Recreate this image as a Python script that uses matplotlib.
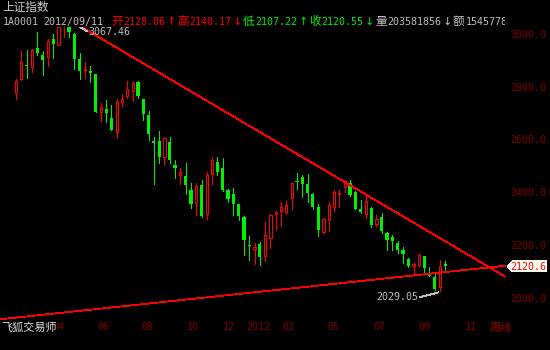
import matplotlib
matplotlib.use("Agg")
import matplotlib.pyplot as plt
from matplotlib.patches import Rectangle, Polygon
from matplotlib import transforms

# ---------------- data (weekly candles, 上证指数) ----------------
opens = [2776.5, 2829.5, 2884.8, 2877.2, 2948.1, 2921.6, 2912.9, 2982.2, 2960.6, 3030.0,
         3035.0, 3001.1, 2905.7, 2865.9, 2862.1, 2849.6, 2704.5, 2716.3, 2683.0, 2631.1,
         2744.7, 2767.4, 2786.4, 2820.4, 2754.9, 2694.3, 2597.0, 2595.8, 2534.1, 2592.0,
         2504.9, 2465.9, 2463.2, 2410.2, 2359.8, 2428.0, 2318.1, 2470.8, 2516.3, 2492.4,
         2410.2, 2395.0, 2357.2, 2307.9, 2201.9, 2186.7, 2205.7, 2161.3, 2227.3, 2319.3,
         2330.6, 2328.0, 2381.0, 2445.4, 2460.6, 2432.9, 2395.0, 2347.0, 2252.2, 2297.7,
         2344.7, 2396.2, 2420.4, 2437.9, 2403.8, 2338.2, 2319.3, 2343.2, 2280.3, 2307.9,
         2248.4, 2233.3, 2208.3, 2182.9, 2148.8, 2122.4, 2126.1, 2160.0, 2094.6, 2079.8,
         2041.6, 2128.06]
highs = [2829.5, 2936.7, 2940.5, 2944.3, 3007.5, 2936.7, 2982.2, 3000.0, 3035.2, 3067.46,
         3045.0, 3004.9, 2928.4, 2895.1, 2879.9, 2851.0, 2738.6, 2751.1, 2732.2, 2754.2,
         2772.0, 2823.1, 2821.2, 2823.1, 2756.0, 2709.5, 2611.0, 2633.7, 2609.8, 2609.8,
         2523.8, 2492.4, 2511.3, 2435.6, 2435.6, 2448.1, 2479.5, 2534.1, 2534.1, 2530.3,
         2415.1, 2417.8, 2358.5, 2311.7, 2235.9, 2210.6, 2214.4, 2289.0, 2318.1, 2330.6,
         2365.9, 2368.5, 2437.9, 2475.7, 2467.0, 2470.8, 2397.7, 2357.2, 2305.3, 2364.7,
         2411.3, 2411.3, 2448.1, 2448.1, 2406.4, 2372.3, 2385.6, 2343.9, 2315.5, 2321.9,
         2249.5, 2239.7, 2217.0, 2193.1, 2151.5, 2132.5, 2172.7, 2161.5, 2119.7, 2091.1,
         2145.0, 2140.17]
lows = [2754.9, 2826.9, 2836.3, 2858.3, 2921.6, 2845.8, 2881.0, 2912.1, 2957.6, 2990.9,
        2990.9, 2870.4, 2830.7, 2834.5, 2820.4, 2705.7, 2671.6, 2668.5, 2635.6, 2608.3,
        2725.7, 2758.7, 2748.5, 2759.8, 2673.5, 2599.6, 2432.9, 2511.3, 2504.9, 2513.6,
        2456.8, 2434.1, 2396.2, 2343.2, 2315.5, 2309.1, 2301.5, 2431.8, 2467.0, 2407.5,
        2365.9, 2315.5, 2296.6, 2164.0, 2145.0, 2129.9, 2126.1, 2141.2, 2191.6, 2258.7,
        2273.8, 2319.3, 2338.2, 2414.0, 2384.8, 2363.6, 2338.2, 2236.0, 2248.4, 2254.9,
        2330.6, 2347.0, 2403.8, 2388.6, 2336.3, 2321.9, 2304.1, 2271.2, 2273.8, 2246.2,
        2182.9, 2182.9, 2170.4, 2132.5, 2117.4, 2097.0, 2119.7, 2100.7, 2082.5, 2031.5,
        2029.05, 2107.22]
closes = [2821.9, 2893.9, 2878.8, 2940.5, 2929.1, 2903.8, 2974.6, 2963.3, 3025.8, 3042.0,
          3009.8, 2906.4, 2862.1, 2868.6, 2854.5, 2706.8, 2723.5, 2701.9, 2637.5, 2744.7,
          2754.2, 2792.8, 2816.7, 2767.4, 2699.2, 2622.4, 2589.0, 2533.4, 2606.0, 2523.8,
          2494.7, 2479.5, 2430.3, 2356.0, 2425.4, 2312.8, 2467.0, 2523.8, 2479.5, 2410.2,
          2377.2, 2357.2, 2311.7, 2220.8, 2198.1, 2195.4, 2157.6, 2239.7, 2315.5, 2328.0,
          2345.9, 2353.4, 2435.6, 2441.6, 2432.9, 2400.0, 2347.0, 2258.7, 2300.3, 2353.4,
          2401.5, 2400.0, 2445.4, 2391.3, 2337.1, 2325.7, 2368.5, 2277.6, 2299.2, 2254.9,
          2220.8, 2218.1, 2182.9, 2166.6, 2122.4, 2128.7, 2164.0, 2115.9, 2084.4, 2034.4,
          2122.4, 2120.55]

price_ticks = [3000, 2800, 2600, 2400, 2200, 2000]
month_labels = ["04", "06", "08", "10", "12", "2012", "03", "05", "07", "09", "11"]
month_pos = [6.8, 15.3, 23.7, 32.3, 39.1, 43.5, 50.2, 58.8, 67.4, 75.9, 84.6]

trend_down_x = [9, 92.3]
trend_down_y = [3067.46, 2082.0]
trend_up_x = [-3.02, 92.4]
trend_up_y = [1920.4, 2123.5]

hi_label = "3067.46"
lo_label = "2029.05"
last_label = "2120.6"

title1 = "上证指数"
code_txt = "1A0001"
date_txt = "2012/09/11"
quote_items = [("开", "2128.06", "↑", "red"), ("高", "2140.17", "↓", "red"),
               ("低", "2107.22", "↑", "green"), ("收", "2120.55", "↓", "green"),
               ("量", "203581856", "↓", "gray"), ("额", "15457780", "", "gray")]

# ---------------- styles ----------------
W, H = 550, 350
RED = "#FF0000"
GREEN = "#00F000"
GRAY = "#C0C0C0"
DRED = "#800000"
MONO = "DejaVu Sans Mono"
CJK = ["Noto Sans CJK SC", "DejaVu Sans"]
NUM_SIZE = 7.2
CJK_SIZE = 8.4
colmap = {"red": RED, "green": GREEN, "gray": GRAY}

fig = plt.figure(figsize=(W / 100, H / 100), dpi=100, facecolor="black")

AX_TOP, AX_BOT, AX_RIGHT = 27, 321, 506
ax = fig.add_axes([0, 1 - AX_BOT / H, AX_RIGHT / W, (AX_BOT - AX_TOP) / H])
ax.set_facecolor("black")
ax.set_xlim(-3.02, 92.45)
ax.set_ylim(1913.9, 3027.65)
ax.axis("off")

px_per_idx = AX_RIGHT / (92.45 + 3.02)
bw_red = 2.2 / px_per_idx
bw_green = 3.2 / px_per_idx
LW = 0.72

for i, (o, h, l, c) in enumerate(zip(opens, highs, lows, closes)):
    up = c > o
    col = RED if up else GREEN
    ax.vlines(i, l, h, colors=col, linewidth=LW, antialiased=False, zorder=2)
    if up:
        ax.add_patch(Rectangle((i - bw_red / 2, o), bw_red, c - o,
                               facecolor="black", edgecolor=col,
                               linewidth=LW, antialiased=False, zorder=3))
    else:
        ax.add_patch(Rectangle((i - bw_green / 2, c), bw_green, max(o - c, 1.5),
                               facecolor=col, edgecolor="none",
                               antialiased=False, zorder=3))

ax.plot(trend_down_x, trend_down_y, color=RED, linewidth=0.6, antialiased=False, zorder=4)
ax.plot(trend_up_x, trend_up_y, color=RED, linewidth=0.6, antialiased=False, zorder=4)

# high / low annotations
hi_i = highs.index(max(highs))
lo_i = lows.index(min(lows))
ax.plot([hi_i, 13.4], [max(highs), 3011], color=GRAY, linewidth=0.6, antialiased=False, zorder=5)
ax.text(13.6, 3008, hi_label, family=MONO, fontsize=NUM_SIZE, color=GRAY,
        ha="left", va="center", zorder=6)
ax.plot([76.2, lo_i - 0.3], [2004, 2022], color=GRAY, linewidth=0.6, antialiased=False, zorder=5)
ax.text(75.9, 2006, lo_label, family=MONO, fontsize=NUM_SIZE, color=GRAY,
        ha="right", va="center", zorder=6)

# overlay in pixel coordinates
ov = fig.add_axes([0, 0, 1, 1], zorder=10)
ov.set_xlim(0, W)
ov.set_ylim(H, 0)
ov.axis("off")
ov.patch.set_alpha(0)


def py_of(price):
    return H - ax.transData.transform((0, price))[1]


def num(x, yc, s, color, ha="left", **kw):
    return ov.text(x, yc + 3.6, s, family=MONO, fontsize=NUM_SIZE, color=color,
                   ha=ha, va="baseline", **kw)


def cjk(x, yc, s, color, ha="left", size=CJK_SIZE, **kw):
    return ov.text(x, yc + 4.6, s, family=CJK, fontsize=size, color=color,
                   ha=ha, va="baseline", **kw)


# top rows
cjk(2, 6.5, title1, "#D0D0D0")
num(3, 21, code_txt, GRAY)
num(43, 21, date_txt, GRAY)
x = 111
clip = transforms.Bbox.from_extents(0, 0, 505, H)
for lab, val, arr, cname in quote_items:
    col = colmap[cname]
    cjk(x, 20.5, lab, col)
    x += 12.5
    t = num(x, 21, val, col)
    t.set_clip_box(clip)
    t.set_clip_on(True)
    x += 6 * len(val)
    if arr:
        ov.text(x + 5.5, 21 + 4, arr, family="DejaVu Sans", fontsize=8, color=col,
                ha="center", va="baseline")
        x += 11.5

# right price labels
for p in price_ticks:
    num(546, py_of(p), f"{p:.1f}", DRED, ha="right")

# last price box
yl = py_of(closes[-1])
ov.add_patch(Polygon([(507, yl), (512.5, yl - 5.5), (547, yl - 5.5), (547, yl + 5.5),
                      (512.5, yl + 5.5)], closed=True, facecolor="#FFFFF4",
                     edgecolor="none", antialiased=False, zorder=2))
num(546, yl, last_label, RED, ha="right", zorder=3)

# bottom time labels
for lab, pos in zip(month_labels, month_pos):
    xpx = ax.transData.transform((pos, 0))[0]
    num(xpx, 326.5, lab, DRED)
cjk(490, 326.5, "周线", "#A00000", size=8.0)
cjk(1, 326.5, "飞狐交易师", "#E0E0E0", size=8.0,
    bbox=dict(facecolor="black", edgecolor="none", pad=0.3), zorder=5)

fig.savefig("out.png", dpi=100, facecolor="black")
